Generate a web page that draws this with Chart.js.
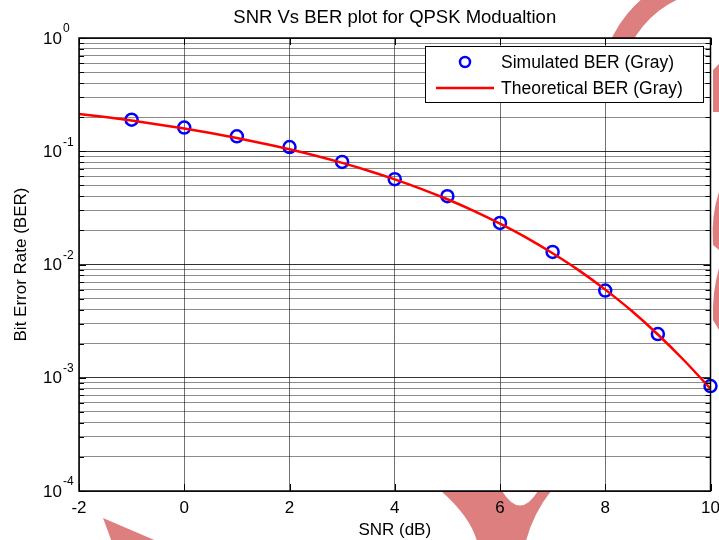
<!DOCTYPE html>
<html>
<head>
<meta charset="utf-8">
<script src="https://cdn.jsdelivr.net/npm/chart.js@4"></script>
<style>
  html, body { margin: 0; padding: 0; background: #fff; }
  #wrap { width: 719px; height: 540px; }
</style>
</head>
<body>
<div id="wrap"><canvas id="c" width="719" height="540"></canvas></div>
<script>
// simulated points
const snrSim = [-1, 0, 1, 2, 3, 4, 5, 6, 7, 8, 9, 10];
const berSim = [0.190, 0.162, 0.1356, 0.109, 0.0805, 0.0567, 0.0401, 0.0233, 0.0129, 0.00588, 0.00243, 0.000845];

// theoretical curve, sampled every half dB
const snrTheory = [-2, -1.5, -1, -0.5, 0, 0.5, 1, 1.5, 2, 2.5, 3, 3.5, 4, 4.5, 5, 5.5, 6, 6.5, 7, 7.5, 8, 8.5, 9, 9.5, 10];
const berTheory = [0.2135, 0.2002, 0.1865, 0.1726, 0.1587, 0.1448, 0.1309, 0.1172, 0.1040, 0.0912, 0.0789, 0.0673,
    0.0565, 0.0466, 0.0377, 0.0298, 0.0230, 0.0173, 0.01258, 0.00887, 0.0060, 0.00390, 0.00241, 0.00142, 0.0008];

const xTicks = [-2, 0, 2, 4, 6, 8, 10];
const decades = [1e-4, 1e-3, 1e-2, 1e-1, 1];
const decadeExp = ['-4', '-3', '-2', '-1', '0'];
const minorSteps = [2, 3, 4, 5, 6, 7, 8, 9];

const titleText = 'SNR Vs BER plot for QPSK Modualtion';
const xLabel = 'SNR (dB)';
const yLabel = 'Bit Error Rate (BER)';
const legendLabels = ['Simulated BER (Gray)', 'Theoretical BER (Gray)'];

const FONT = '"Liberation Sans", Arial, Helvetica, sans-serif';
const BLUE = '#0000ff';
const RED = '#ff0000';
const MARK = 'rgb(222,127,127)';

const yTickVals = [];
decades.forEach((d, i) => {
    yTickVals.push(d);
    if (i < decades.length - 1) minorSteps.forEach(m => yTickVals.push(d * m));
});
const isDecade = v => decades.some(d => Math.abs(v / d - 1) < 1e-6);

// background + watermark pieces sitting behind the axes
const backdrop = {
    id: 'backdrop',
    beforeDraw(chart) {
        const ctx = chart.ctx;
        const a = chart.chartArea;
        ctx.save();
        ctx.fillStyle = '#fff';
        ctx.fillRect(0, 0, chart.width, chart.height);
        ctx.fillStyle = MARK;
        ctx.strokeStyle = MARK;

        ctx.lineWidth = 20;
        ctx.beginPath();
        ctx.arc(720, 90, 110, Math.PI * 1.08, Math.PI * 1.36);
        ctx.stroke();

        ctx.beginPath();
        ctx.moveTo(713, 70); ctx.lineTo(719, 64); ctx.lineTo(719, 112); ctx.lineTo(713, 112);
        ctx.closePath(); ctx.fill();

        ctx.beginPath();
        ctx.moveTo(719, 192); ctx.quadraticCurveTo(711, 215, 713, 245);
        ctx.lineTo(719, 250);
        ctx.closePath(); ctx.fill();

        ctx.beginPath();
        ctx.moveTo(719, 268); ctx.quadraticCurveTo(712, 292, 713, 320);
        ctx.lineTo(719, 330);
        ctx.closePath(); ctx.fill();

        ctx.beginPath();
        ctx.moveTo(441, 491);
        ctx.quadraticCurveTo(472, 518, 478, 545);
        ctx.lineTo(525, 545);
        ctx.quadraticCurveTo(532, 515, 551, 491);
        ctx.lineTo(538, 491);
        ctx.quadraticCurveTo(520, 520, 502, 491);
        ctx.closePath(); ctx.fill();

        ctx.beginPath();
        ctx.moveTo(103, 518); ctx.lineTo(166, 545); ctx.lineTo(113, 545);
        ctx.closePath(); ctx.fill();

        ctx.fillStyle = '#fff';
        ctx.fillRect(a.left, a.top, a.right - a.left, a.bottom - a.top);
        ctx.restore();
    }
};

// box, inward ticks, tick labels, titles, legend
const decor = {
    id: 'decor',
    afterDraw(chart) {
        const ctx = chart.ctx;
        const a = chart.chartArea;
        const xs = chart.scales.x;
        const ys = chart.scales.y;
        ctx.save();

        ctx.strokeStyle = '#000';
        ctx.lineWidth = 1;
        ys.ticks.forEach(t => {
            const y = Math.round(ys.getPixelForValue(t.value)) + 0.5;
            const len = isDecade(t.value) ? 7 : 5;
            ctx.beginPath();
            ctx.moveTo(a.left, y); ctx.lineTo(a.left + len, y);
            ctx.moveTo(a.right, y); ctx.lineTo(a.right - len, y);
            ctx.stroke();
        });
        xTicks.forEach(v => {
            const x = Math.round(xs.getPixelForValue(v)) + 0.5;
            ctx.beginPath();
            ctx.moveTo(x, a.bottom); ctx.lineTo(x, a.bottom - 7);
            ctx.moveTo(x, a.top); ctx.lineTo(x, a.top + 7);
            ctx.stroke();
        });
        ctx.lineWidth = 1.5;
        ctx.strokeRect(a.left, a.top, a.right - a.left, a.bottom - a.top);

        ctx.fillStyle = '#000';
        ctx.textBaseline = 'middle';
        ctx.textAlign = 'center';
        ctx.font = '17px ' + FONT;
        xTicks.forEach(v => {
            ctx.fillText(String(v), xs.getPixelForValue(v), 508);
        });
        decades.forEach((d, i) => {
            const y = ys.getPixelForValue(d);
            ctx.textAlign = 'left';
            ctx.font = '17px ' + FONT;
            ctx.fillText('10', 43, y + 1);
            ctx.font = '12px ' + FONT;
            ctx.fillText(decadeExp[i], 63, y - 9);
        });

        ctx.textAlign = 'center';
        ctx.font = '18.5px ' + FONT;
        ctx.fillText(titleText, (a.left + a.right) / 2, 18);
        ctx.font = '17px ' + FONT;
        ctx.fillText(xLabel, (a.left + a.right) / 2, 530);
        ctx.save();
        ctx.translate(21, (a.top + a.bottom) / 2);
        ctx.rotate(-Math.PI / 2);
        ctx.fillText(yLabel, 0, 0);
        ctx.restore();

        // legend
        ctx.fillStyle = '#fff';
        ctx.fillRect(425, 46, 278, 56);
        ctx.lineWidth = 1;
        ctx.strokeStyle = '#000';
        ctx.strokeRect(425.5, 46.5, 278, 56);
        ctx.strokeStyle = BLUE;
        ctx.lineWidth = 2.5;
        ctx.beginPath();
        ctx.arc(465, 62, 5, 0, Math.PI * 2);
        ctx.stroke();
        ctx.strokeStyle = RED;
        ctx.beginPath();
        ctx.moveTo(436, 88); ctx.lineTo(494, 88);
        ctx.stroke();
        ctx.fillStyle = '#000';
        ctx.textAlign = 'left';
        ctx.font = '17.5px ' + FONT;
        ctx.fillText(legendLabels[0], 501, 63);
        ctx.fillText(legendLabels[1], 501, 89);
        ctx.restore();
    }
};

new Chart(document.getElementById('c'), {
    type: 'scatter',
    data: {
        datasets: [
            {
                label: legendLabels[1],
                data: snrTheory.map((x, i) => ({ x: x, y: berTheory[i] })),
                showLine: true,
                borderColor: RED,
                borderWidth: 2.5,
                pointRadius: 0,
                cubicInterpolationMode: 'monotone',
                order: 0,
            },
            {
                label: legendLabels[0],
                data: snrSim.map((x, i) => ({ x: x, y: berSim[i] })),
                borderColor: BLUE,
                backgroundColor: 'rgba(0,0,0,0)',
                borderWidth: 2.5,
                pointRadius: 6,
                order: 1,
            },
        ],
    },
    options: {
        responsive: false,
        animation: false,
        clip: false,
        layout: { padding: { left: 79, top: 38, right: 8, bottom: 49 } },
        plugins: {
            legend: { display: false },
            title: { display: false },
            tooltip: { enabled: false },
        },
        scales: {
            x: {
                type: 'linear',
                min: -2,
                max: 10,
                afterBuildTicks: s => { s.ticks = xTicks.map(v => ({ value: v })); },
                ticks: { display: false },
                grid: {
                    drawTicks: false,
                    color: 'rgba(0,0,0,0.55)',
                    lineWidth: 1,
                },
                border: { display: false },
            },
            y: {
                type: 'logarithmic',
                min: 1e-4,
                max: 1,
                afterBuildTicks: s => { s.ticks = yTickVals.map(v => ({ value: v })); },
                ticks: { display: false },
                grid: {
                    drawTicks: false,
                    color: c => isDecade(c.tick.value) ? 'rgba(0,0,0,0.8)' : 'rgba(0,0,0,0.45)',
                    lineWidth: 1,
                },
                border: { display: false },
            },
        },
    },
    plugins: [backdrop, decor],
});
</script>
</body>
</html>
